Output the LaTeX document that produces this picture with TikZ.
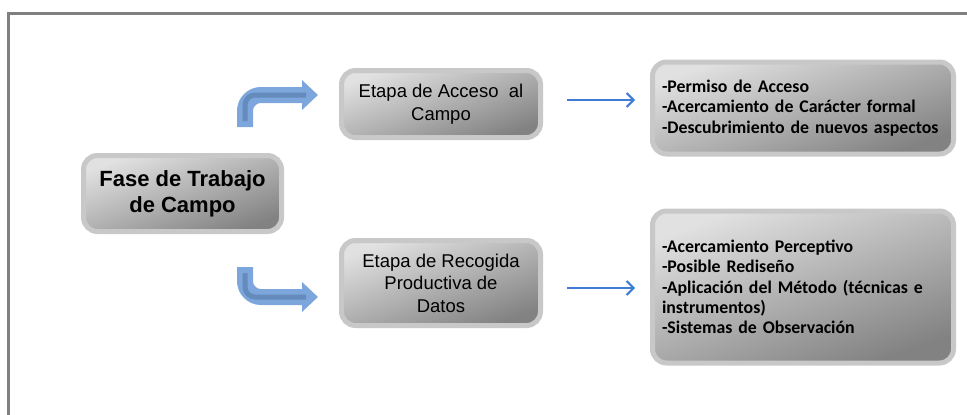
\documentclass[tikz,border=0pt]{standalone}
\usepackage{fontspec}
\setmainfont{Liberation Sans}
\newfontfamily\listafont{Carlito}
\usetikzlibrary{arrows.meta}

\definecolor{borde}{RGB}{200,200,200}
\definecolor{claro}{RGB}{225,225,225}
\definecolor{oscuro}{RGB}{130,130,130}
\definecolor{azulcodo}{RGB}{124,166,220}
\definecolor{azulcodoin}{RGB}{92,128,176}
\definecolor{azul}{RGB}{62,124,214}
\definecolor{gris}{RGB}{128,128,128}

\tikzset{
  caja/.style={draw=borde, line width=5pt, rounded corners=14pt,
    top color=claro, bottom color=oscuro, shading angle=20,
    align=center, inner sep=0pt},
  lista/.style={caja, align=left, text width=282pt, font=\listafont\bfseries\fontsize{17.8}{20.3}\selectfont},
  flecha/.style={azul, line width=2pt, -{Straight Barb[length=7pt,width=14pt]}},
  codo/.style={azulcodo, line width=16pt, rounded corners=16pt, -{Triangle[length=16pt,width=29pt]}},
  codoin/.style={azulcodoin, line width=5pt, rounded corners=10pt, opacity=0.7}
}

\begin{document}
\begin{tikzpicture}[x=1pt,y=-1pt]
  \useasboundingbox (0,0) rectangle (967,415);
  % frame
  \draw[gris, line width=3pt] (8,415) -- (8,13) -- (967,13);

  % main phase
  \node[caja, minimum width=198pt, minimum height=76pt,
        font=\bfseries\fontsize{22}{26}\selectfont] (fase) at (182.5,193.5) {Fase de Trabajo\\de Campo};

  % stages
  \node[caja, minimum width=199pt, minimum height=67pt,
        font=\fontsize{18.5}{22.5}\selectfont] (acceso) at (441,104) {Etapa de Acceso\ \ al\\Campo};
  \node[caja, minimum width=199pt, minimum height=85pt,
        font=\fontsize{18.5}{22.5}\selectfont] (recogida) at (441,283) {Etapa de Recogida\\Productiva de\\Datos};

  % details
  \node[lista, minimum width=301pt, minimum height=92pt] (permiso) at (803,108)
    {-Permiso de Acceso\\-Acercamiento de Carácter formal\\-Descubrimiento de nuevos aspectos};
  \node[lista, minimum width=301pt, minimum height=152pt] (percep) at (803,287)
    {-Acercamiento Perceptivo\\-Posible Rediseño\\-Aplicación del Método (técnicas e\\instrumentos)\\-Sistemas de Observación};

  % bent arrows
  \coordinate (arriba) at (245,127);
  \coordinate (arribaFin) at (318,95);
  \coordinate (abajo) at (245,267);
  \coordinate (abajoFin) at (318,297);
  \draw[codo] (arriba) |- (arribaFin);
  \draw[codoin] ([yshift=6pt]arriba) |- ([xshift=-12pt]arribaFin);
  \draw[codo] (abajo) |- (abajoFin);
  \draw[codoin] ([yshift=-6pt]abajo) |- ([xshift=-12pt]abajoFin);

  % thin arrows
  \draw[flecha] ([xshift=24pt,yshift=4pt]acceso.east) -- ([xshift=-15pt,yshift=4pt]acceso.east -| permiso.west);
  \draw[flecha] ([xshift=24pt,yshift=-5pt]recogida.east) -- ([xshift=-15pt,yshift=-5pt]recogida.east -| percep.west);
\end{tikzpicture}
\end{document}
